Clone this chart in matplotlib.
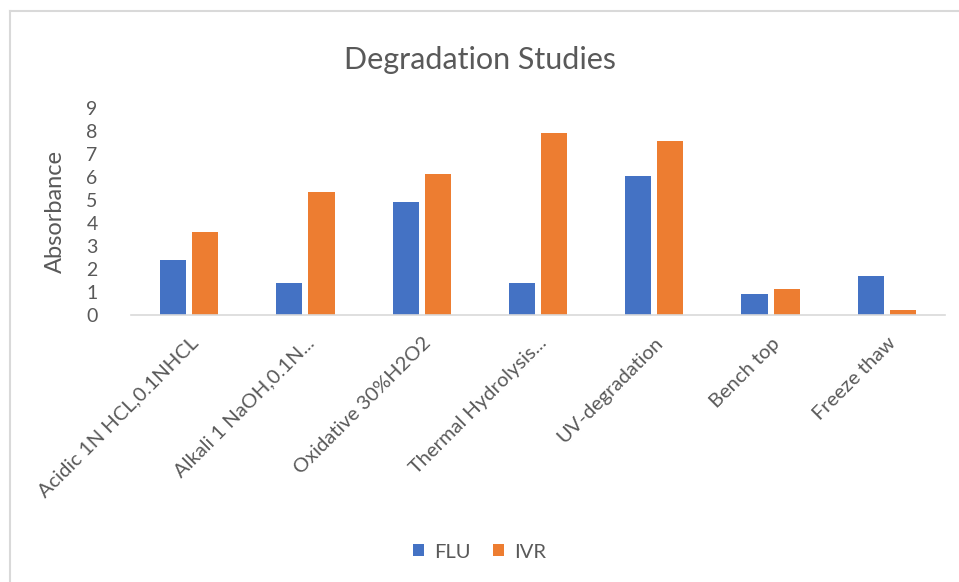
import matplotlib
matplotlib.use("Agg")
import matplotlib.pyplot as plt
import numpy as np

categories = ["Acidic 1N HCL,0.1NHCL", "Alkali 1 NaOH,0.1N...", "Oxidative 30%H2O2",
              "Thermal Hydrolysis...", "UV-degradation", "Bench top", "Freeze thaw"]
flu = [2.4, 1.4, 4.9, 1.4, 6.05, 0.9, 1.7]
ivr = [3.6, 5.35, 6.15, 7.9, 7.55, 1.15, 0.2]
yticks = list(range(0, 10))

plt.rcParams['font.family'] = ['Lato', 'DejaVu Sans']
txt = '#595959'

fig = plt.figure(figsize=(9.59, 5.82), dpi=100)
W, H = 959, 582
ax = fig.add_axes([131 / W, 1 - 315 / H, (945 - 131) / W, (315 - 108) / H])

x = np.arange(len(categories))
bw = 0.224
off = 0.138
ax.bar(x - off, flu, bw, color='#4472C4', label='FLU')
ax.bar(x + off, ivr, bw, color='#ED7D31', label='IVR')

ax.set_xlim(-0.5, len(categories) - 0.5)
ax.set_ylim(0, 9)
ax.set_yticks(yticks)
ax.set_yticklabels([str(t) for t in yticks], fontsize=14, color=txt)
ax.tick_params(axis='y', length=0, pad=24)
ax.set_xticks(x)
ax.set_xticklabels(categories, rotation=45, ha='right', rotation_mode='anchor',
                   fontsize=14.5, color=txt)
ax.tick_params(axis='x', length=0, pad=14)
for s in ['top', 'right', 'left']:
    ax.spines[s].set_visible(False)
ax.spines['bottom'].set_color('#D9D9D9')
ax.spines['bottom'].set_linewidth(1.2)

ax.set_ylabel('Absorbance', fontsize=17, color=txt)
ax.yaxis.set_label_coords(-0.08, 0.5)

fig.text(0.5, 1 - 60 / H, 'Degradation Studies', ha='center', va='center',
         fontsize=22, color=txt)

leg = fig.legend(loc='center', bbox_to_anchor=(0.5, 1 - 552 / H), ncol=2, frameon=False,
                 fontsize=14.5, handlelength=0.55, handleheight=0.55, handletextpad=0.5,
                 columnspacing=1.1)
for t in leg.get_texts():
    t.set_color(txt)

# outer chart border (top and left visible)
fig.add_artist(plt.Line2D([10 / W, 1], [1 - 11 / H, 1 - 11 / H], color='#D9D9D9', lw=1.5,
                          transform=fig.transFigure))
fig.add_artist(plt.Line2D([10 / W, 10 / W], [0, 1 - 11 / H], color='#D9D9D9', lw=1.5,
                          transform=fig.transFigure))

fig.savefig('out.png', dpi=100)
